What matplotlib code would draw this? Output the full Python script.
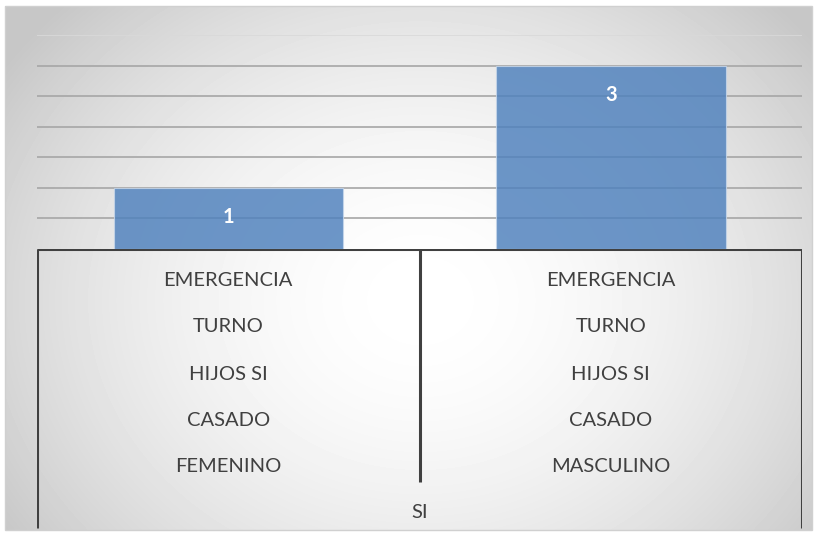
import numpy as np
import matplotlib.pyplot as plt
from matplotlib.patches import Rectangle

# data
categories = ['FEMENINO', 'MASCULINO']
values = [1, 3]
level_labels = [
    ['EMERGENCIA', 'TURNO', 'HIJOS SI', 'CASADO', 'FEMENINO'],
    ['EMERGENCIA', 'TURNO', 'HIJOS SI', 'CASADO', 'MASCULINO'],
]
outer_label = 'SI'
y_ticks = [0, 0.5, 1, 1.5, 2, 2.5, 3, 3.5]

plt.rcParams['font.family'] = ['Lato', 'DejaVu Sans']

W, H = 820, 538
fig = plt.figure(figsize=(W / 100, H / 100), dpi=100)

# chart area: radial gray gradient with a thin border
bg = fig.add_axes([0, 0, 1, 1])
bg.set_xlim(0, W)
bg.set_ylim(H, 0)
bg.axis('off')
yy, xx = np.mgrid[6:530, 5:812]
r = np.sqrt(((xx - 420) / 500) ** 2 + ((yy - 300) / 420) ** 2)
shade = 1 - 0.22 * np.clip(r, 0, 1) ** 1.8
bg.imshow(shade, cmap='gray', vmin=0, vmax=1, extent=(5, 812, 530, 6),
          aspect='auto', interpolation='bilinear')
bg.add_patch(Rectangle((5, 6), 807, 524, fill=False, edgecolor='#D0D0D0', lw=1))

# plot area
ax = fig.add_axes([37 / W, (H - 249) / H, 765 / W, (249 - 35) / H])
ax.patch.set_alpha(0)
x = np.arange(len(values))
for t in y_ticks[1:]:
    ax.axhline(t, color='#A6A6A6' if t < 3.5 else '#D9D9D9', lw=1.2, zorder=1)
ax.bar(x, values, width=0.6, color='#4F81BD', alpha=0.83,
       edgecolor='#C6D6EA', lw=0.8, zorder=2)
for xi, v in zip(x, values):
    ax.annotate(str(v), (xi, v), xytext=(0, -21), textcoords='offset points',
                ha='center', va='center', color='white', fontsize=14.5,
                fontweight='bold')
ax.set_xlim(-0.5, len(values) - 0.5)
ax.set_ylim(0, 3.5)
ax.set_xticks([])
ax.set_yticks([])
for s in ax.spines.values():
    s.set_visible(False)

# multi-level category axis
lab = fig.add_axes([37 / W, (H - 530) / H, 765 / W, (530 - 249) / H])
lab.patch.set_alpha(0)
lab.set_xlim(-0.5, len(values) - 0.5)
lab.set_ylim(281, 0)
lab.axis('off')
line_kw = dict(color='#404040', lw=2.2, solid_capstyle='butt')
lab.plot([-0.5, len(values) - 0.5], [0, 0], **line_kw)
lab.plot([-0.5, -0.5], [0, 279], **line_kw)
lab.plot([len(values) - 0.5] * 2, [0, 279], **line_kw)
for i in range(1, len(values)):
    lab.plot([i - 0.5, i - 0.5], [0, 233], **line_kw)
rows = [32, 78, 125, 171, 218]
for xi, labels in zip(x, level_labels):
    for ry, txt in zip(rows, labels):
        lab.text(xi, ry, txt, ha='center', va='center', fontsize=14.5, color='#404040')
lab.text((len(values) - 1) / 2, 264, outer_label, ha='center', va='center',
         fontsize=14.5, color='#404040')

fig.savefig('out.png', dpi=100)
